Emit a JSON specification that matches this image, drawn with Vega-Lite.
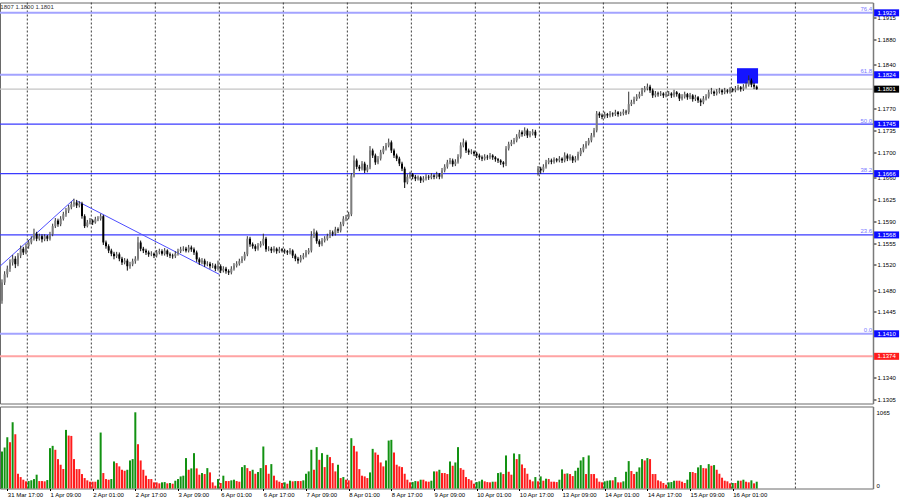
{
"$schema":"https://vega.github.io/schema/vega-lite/v6.json",
"padding":{"left":-3,"top":1.5,"right":4.5,"bottom":3},
"background":"white",
"spacing":1,
"config":{"view":{"stroke":"#6a6a6a","strokeWidth":1},"font":"Liberation Sans","axis":{"grid":false},"scale":{"continuousPadding":0}},
"datasets":{
"grid":[{"g":9.5},{"g":33.5},{"g":57.5},{"g":81.5},{"g":105.5},{"g":129.5},{"g":153.5},{"g":177.5},{"g":201.5},{"g":225.5},{"g":249.5},{"g":273.5},{"g":297.5}],
"levels":[{"p":1.1923,"k":"fl","f":"76.4"},{"p":1.1824,"k":"fl","f":"61.8"},{"p":1.1745,"k":"fd","f":"50.0"},{"p":1.1666,"k":"fd","f":"38.2"},{"p":1.1568,"k":"fd","f":"23.6"},{"p":1.141,"k":"fl","f":"0.0"},{"p":1.1801,"k":"bid"},{"p":1.1374,"k":"red"}],
"trend":[{"s":1,"i":-0.74,"p":1.1518},{"s":1,"i":27,"p":1.1625},{"s":2,"i":28.2,"p":1.1622},{"s":2,"i":81.5,"p":1.1505}],
"zone":[{"a":275.6,"b":283.5,"p1":1.18345,"p2":1.181}],
"hdr":[{"t":"1807 1.1800 1.1801"}],
"bars":[
{"i":0,"o":1.1463,"h":1.1497,"l":1.1458,"c":1.1492,"v":517},
{"i":1,"o":1.1492,"h":1.151,"l":1.1488,"c":1.1505,"v":573},
{"i":2,"o":1.1505,"h":1.1519,"l":1.15,"c":1.1514,"v":717},
{"i":3,"o":1.1514,"h":1.1529,"l":1.1509,"c":1.1524,"v":647},
{"i":4,"o":1.1524,"h":1.1536,"l":1.1519,"c":1.153,"v":926},
{"i":5,"o":1.153,"h":1.1534,"l":1.1515,"c":1.1521,"v":759},
{"i":6,"o":1.1521,"h":1.1539,"l":1.1518,"c":1.1535,"v":206},
{"i":7,"o":1.1535,"h":1.1551,"l":1.1531,"c":1.1546,"v":160},
{"i":8,"o":1.1546,"h":1.1549,"l":1.1536,"c":1.154,"v":123},
{"i":9,"o":1.154,"h":1.1554,"l":1.1537,"c":1.155,"v":100},
{"i":10,"o":1.155,"h":1.156,"l":1.1546,"c":1.1556,"v":104},
{"i":11,"o":1.1556,"h":1.1566,"l":1.1553,"c":1.1562,"v":114},
{"i":12,"o":1.1562,"h":1.1578,"l":1.1559,"c":1.157,"v":132},
{"i":13,"o":1.157,"h":1.1573,"l":1.1558,"c":1.1562,"v":193},
{"i":14,"o":1.1562,"h":1.157,"l":1.1559,"c":1.1566,"v":104},
{"i":15,"o":1.1566,"h":1.1569,"l":1.1556,"c":1.1561,"v":104},
{"i":16,"o":1.1561,"h":1.1569,"l":1.1558,"c":1.1566,"v":100},
{"i":17,"o":1.1566,"h":1.1568,"l":1.1558,"c":1.1562,"v":118},
{"i":18,"o":1.1562,"h":1.1573,"l":1.1559,"c":1.1569,"v":564},
{"i":19,"o":1.1569,"h":1.1586,"l":1.1566,"c":1.1582,"v":596},
{"i":20,"o":1.1582,"h":1.1595,"l":1.1579,"c":1.1591,"v":541},
{"i":21,"o":1.1591,"h":1.1594,"l":1.1581,"c":1.1585,"v":411},
{"i":22,"o":1.1585,"h":1.1598,"l":1.1582,"c":1.1594,"v":332},
{"i":23,"o":1.1594,"h":1.1605,"l":1.1591,"c":1.1601,"v":271},
{"i":24,"o":1.1601,"h":1.1611,"l":1.1597,"c":1.1607,"v":819},
{"i":25,"o":1.1607,"h":1.1616,"l":1.1603,"c":1.1612,"v":740},
{"i":26,"o":1.1612,"h":1.1621,"l":1.1609,"c":1.1617,"v":735},
{"i":27,"o":1.1617,"h":1.1626,"l":1.1613,"c":1.162,"v":411},
{"i":28,"o":1.162,"h":1.1624,"l":1.1611,"c":1.1615,"v":271},
{"i":29,"o":1.1615,"h":1.1622,"l":1.1612,"c":1.1618,"v":271},
{"i":30,"o":1.1618,"h":1.1621,"l":1.1594,"c":1.1598,"v":202},
{"i":31,"o":1.1598,"h":1.1601,"l":1.1579,"c":1.1582,"v":146},
{"i":32,"o":1.1582,"h":1.1592,"l":1.158,"c":1.1588,"v":114},
{"i":33,"o":1.1588,"h":1.1595,"l":1.1585,"c":1.1591,"v":95},
{"i":34,"o":1.1591,"h":1.1593,"l":1.1584,"c":1.1588,"v":95},
{"i":35,"o":1.1588,"h":1.1597,"l":1.1586,"c":1.1593,"v":95},
{"i":36,"o":1.1593,"h":1.1598,"l":1.159,"c":1.1594,"v":123},
{"i":37,"o":1.1594,"h":1.1602,"l":1.1591,"c":1.1598,"v":782},
{"i":38,"o":1.1598,"h":1.16,"l":1.1552,"c":1.1556,"v":216},
{"i":39,"o":1.1556,"h":1.1559,"l":1.1546,"c":1.155,"v":132},
{"i":40,"o":1.155,"h":1.1553,"l":1.1539,"c":1.1543,"v":123},
{"i":41,"o":1.1543,"h":1.1546,"l":1.1534,"c":1.1538,"v":132},
{"i":42,"o":1.1538,"h":1.1541,"l":1.1529,"c":1.1534,"v":378},
{"i":43,"o":1.1534,"h":1.1541,"l":1.1531,"c":1.1537,"v":355},
{"i":44,"o":1.1537,"h":1.154,"l":1.1526,"c":1.153,"v":309},
{"i":45,"o":1.153,"h":1.1533,"l":1.152,"c":1.1524,"v":262},
{"i":46,"o":1.1524,"h":1.1531,"l":1.1521,"c":1.1527,"v":248},
{"i":47,"o":1.1527,"h":1.153,"l":1.1511,"c":1.1518,"v":262},
{"i":48,"o":1.1518,"h":1.1525,"l":1.1514,"c":1.1521,"v":392},
{"i":49,"o":1.1521,"h":1.153,"l":1.1518,"c":1.1526,"v":411},
{"i":50,"o":1.1526,"h":1.1534,"l":1.1522,"c":1.153,"v":1065},
{"i":51,"o":1.153,"h":1.1565,"l":1.1527,"c":1.1556,"v":619},
{"i":52,"o":1.1556,"h":1.1559,"l":1.1542,"c":1.1546,"v":392},
{"i":53,"o":1.1546,"h":1.1549,"l":1.1539,"c":1.1543,"v":262},
{"i":54,"o":1.1543,"h":1.1546,"l":1.1536,"c":1.154,"v":179},
{"i":55,"o":1.154,"h":1.1543,"l":1.1533,"c":1.1537,"v":132},
{"i":56,"o":1.1537,"h":1.1542,"l":1.1534,"c":1.1538,"v":132},
{"i":57,"o":1.1538,"h":1.154,"l":1.1531,"c":1.1535,"v":86},
{"i":58,"o":1.1535,"h":1.1544,"l":1.1532,"c":1.154,"v":86},
{"i":59,"o":1.154,"h":1.1546,"l":1.1537,"c":1.1542,"v":72},
{"i":60,"o":1.1542,"h":1.1545,"l":1.1535,"c":1.1538,"v":86},
{"i":61,"o":1.1538,"h":1.1547,"l":1.1535,"c":1.1543,"v":90},
{"i":62,"o":1.1543,"h":1.1545,"l":1.1533,"c":1.1537,"v":72},
{"i":63,"o":1.1537,"h":1.154,"l":1.1531,"c":1.1535,"v":77},
{"i":64,"o":1.1535,"h":1.1538,"l":1.153,"c":1.1534,"v":67},
{"i":65,"o":1.1534,"h":1.1542,"l":1.1531,"c":1.1538,"v":109},
{"i":66,"o":1.1538,"h":1.1546,"l":1.1535,"c":1.1542,"v":132},
{"i":67,"o":1.1542,"h":1.1549,"l":1.1539,"c":1.1545,"v":169},
{"i":68,"o":1.1545,"h":1.155,"l":1.1542,"c":1.1546,"v":179},
{"i":69,"o":1.1546,"h":1.1549,"l":1.154,"c":1.1543,"v":425},
{"i":70,"o":1.1543,"h":1.1552,"l":1.154,"c":1.1548,"v":262},
{"i":71,"o":1.1548,"h":1.1551,"l":1.1541,"c":1.1545,"v":281},
{"i":72,"o":1.1545,"h":1.1548,"l":1.1536,"c":1.154,"v":494},
{"i":73,"o":1.154,"h":1.1543,"l":1.1525,"c":1.1529,"v":281},
{"i":74,"o":1.1529,"h":1.1532,"l":1.152,"c":1.1524,"v":193},
{"i":75,"o":1.1524,"h":1.1531,"l":1.1521,"c":1.1527,"v":216},
{"i":76,"o":1.1527,"h":1.153,"l":1.1517,"c":1.1521,"v":202},
{"i":77,"o":1.1521,"h":1.1526,"l":1.1518,"c":1.1522,"v":285},
{"i":78,"o":1.1522,"h":1.1525,"l":1.1514,"c":1.1518,"v":225},
{"i":79,"o":1.1518,"h":1.1523,"l":1.1515,"c":1.1519,"v":86},
{"i":80,"o":1.1519,"h":1.1522,"l":1.151,"c":1.1514,"v":39},
{"i":81,"o":1.1514,"h":1.1527,"l":1.1511,"c":1.1518,"v":132},
{"i":82,"o":1.1518,"h":1.1521,"l":1.1507,"c":1.1511,"v":77},
{"i":83,"o":1.1511,"h":1.1518,"l":1.1508,"c":1.1514,"v":179},
{"i":84,"o":1.1514,"h":1.1517,"l":1.1506,"c":1.151,"v":104},
{"i":85,"o":1.151,"h":1.1513,"l":1.1504,"c":1.1508,"v":104},
{"i":86,"o":1.1508,"h":1.1518,"l":1.1505,"c":1.1514,"v":114},
{"i":87,"o":1.1514,"h":1.1523,"l":1.1511,"c":1.1519,"v":123},
{"i":88,"o":1.1519,"h":1.1526,"l":1.1516,"c":1.1522,"v":104},
{"i":89,"o":1.1522,"h":1.153,"l":1.1519,"c":1.1526,"v":95},
{"i":90,"o":1.1526,"h":1.1534,"l":1.1523,"c":1.153,"v":299},
{"i":91,"o":1.153,"h":1.1541,"l":1.1527,"c":1.1537,"v":327},
{"i":92,"o":1.1537,"h":1.1566,"l":1.1534,"c":1.1562,"v":285},
{"i":93,"o":1.1562,"h":1.1565,"l":1.1549,"c":1.1553,"v":243},
{"i":94,"o":1.1553,"h":1.1556,"l":1.1546,"c":1.155,"v":262},
{"i":95,"o":1.155,"h":1.1553,"l":1.1542,"c":1.1546,"v":206},
{"i":96,"o":1.1546,"h":1.1555,"l":1.1543,"c":1.1551,"v":230},
{"i":97,"o":1.1551,"h":1.1558,"l":1.1548,"c":1.1554,"v":285},
{"i":98,"o":1.1554,"h":1.157,"l":1.1551,"c":1.1562,"v":587},
{"i":99,"o":1.1562,"h":1.1565,"l":1.1541,"c":1.1545,"v":327},
{"i":100,"o":1.1545,"h":1.155,"l":1.1542,"c":1.1546,"v":206},
{"i":101,"o":1.1546,"h":1.1549,"l":1.1539,"c":1.1543,"v":341},
{"i":102,"o":1.1543,"h":1.155,"l":1.154,"c":1.1546,"v":179},
{"i":103,"o":1.1546,"h":1.1548,"l":1.1538,"c":1.1542,"v":114},
{"i":104,"o":1.1542,"h":1.1549,"l":1.1539,"c":1.1545,"v":95},
{"i":105,"o":1.1545,"h":1.1547,"l":1.154,"c":1.1543,"v":77},
{"i":106,"o":1.1543,"h":1.1546,"l":1.1538,"c":1.1542,"v":86},
{"i":107,"o":1.1542,"h":1.1544,"l":1.1536,"c":1.154,"v":67},
{"i":108,"o":1.154,"h":1.1547,"l":1.1537,"c":1.1543,"v":109},
{"i":109,"o":1.1543,"h":1.1545,"l":1.1531,"c":1.1535,"v":100},
{"i":110,"o":1.1535,"h":1.1538,"l":1.1526,"c":1.153,"v":104},
{"i":111,"o":1.153,"h":1.1533,"l":1.1522,"c":1.1527,"v":104},
{"i":112,"o":1.1527,"h":1.1536,"l":1.1524,"c":1.1532,"v":104},
{"i":113,"o":1.1532,"h":1.1539,"l":1.1529,"c":1.1535,"v":114},
{"i":114,"o":1.1535,"h":1.1544,"l":1.1532,"c":1.154,"v":206},
{"i":115,"o":1.154,"h":1.1547,"l":1.1537,"c":1.1543,"v":239},
{"i":116,"o":1.1543,"h":1.1574,"l":1.154,"c":1.1566,"v":541},
{"i":117,"o":1.1566,"h":1.1578,"l":1.1563,"c":1.1572,"v":262},
{"i":118,"o":1.1572,"h":1.1575,"l":1.1554,"c":1.1558,"v":578},
{"i":119,"o":1.1558,"h":1.1561,"l":1.1549,"c":1.1553,"v":401},
{"i":120,"o":1.1553,"h":1.1563,"l":1.155,"c":1.1559,"v":494},
{"i":121,"o":1.1559,"h":1.1566,"l":1.1556,"c":1.1562,"v":299},
{"i":122,"o":1.1562,"h":1.157,"l":1.1559,"c":1.1566,"v":471},
{"i":123,"o":1.1566,"h":1.1576,"l":1.1563,"c":1.1572,"v":439},
{"i":124,"o":1.1572,"h":1.1575,"l":1.1566,"c":1.157,"v":355},
{"i":125,"o":1.157,"h":1.1581,"l":1.1567,"c":1.1577,"v":239},
{"i":126,"o":1.1577,"h":1.158,"l":1.1571,"c":1.1575,"v":332},
{"i":127,"o":1.1575,"h":1.1589,"l":1.1572,"c":1.1585,"v":146},
{"i":128,"o":1.1585,"h":1.1598,"l":1.1582,"c":1.1594,"v":160},
{"i":129,"o":1.1594,"h":1.16,"l":1.159,"c":1.1596,"v":123},
{"i":130,"o":1.1596,"h":1.1605,"l":1.1593,"c":1.1601,"v":114},
{"i":131,"o":1.1601,"h":1.1667,"l":1.1598,"c":1.1663,"v":703},
{"i":132,"o":1.1663,"h":1.1695,"l":1.166,"c":1.1687,"v":596},
{"i":133,"o":1.1687,"h":1.169,"l":1.1673,"c":1.1677,"v":517},
{"i":134,"o":1.1677,"h":1.168,"l":1.167,"c":1.1674,"v":271},
{"i":135,"o":1.1674,"h":1.1686,"l":1.1671,"c":1.1682,"v":179},
{"i":136,"o":1.1682,"h":1.1685,"l":1.1667,"c":1.1671,"v":169},
{"i":137,"o":1.1671,"h":1.168,"l":1.1668,"c":1.1676,"v":146},
{"i":138,"o":1.1676,"h":1.171,"l":1.1673,"c":1.1703,"v":225},
{"i":139,"o":1.1703,"h":1.1706,"l":1.1691,"c":1.1695,"v":554},
{"i":140,"o":1.1695,"h":1.1698,"l":1.168,"c":1.1684,"v":503},
{"i":141,"o":1.1684,"h":1.1694,"l":1.1681,"c":1.169,"v":471},
{"i":142,"o":1.169,"h":1.1704,"l":1.1687,"c":1.17,"v":364},
{"i":143,"o":1.17,"h":1.171,"l":1.1697,"c":1.1706,"v":309},
{"i":144,"o":1.1706,"h":1.1715,"l":1.1703,"c":1.1711,"v":392},
{"i":145,"o":1.1711,"h":1.1722,"l":1.1708,"c":1.1716,"v":670},
{"i":146,"o":1.1716,"h":1.1719,"l":1.1699,"c":1.1703,"v":680},
{"i":147,"o":1.1703,"h":1.1706,"l":1.1691,"c":1.1695,"v":503},
{"i":148,"o":1.1695,"h":1.1698,"l":1.1686,"c":1.169,"v":332},
{"i":149,"o":1.169,"h":1.1693,"l":1.1678,"c":1.1682,"v":309},
{"i":150,"o":1.1682,"h":1.1685,"l":1.167,"c":1.1674,"v":299},
{"i":151,"o":1.1674,"h":1.1677,"l":1.1643,"c":1.1652,"v":206},
{"i":152,"o":1.1652,"h":1.1665,"l":1.1649,"c":1.1661,"v":123},
{"i":153,"o":1.1661,"h":1.1669,"l":1.1658,"c":1.1665,"v":86},
{"i":154,"o":1.1665,"h":1.1667,"l":1.1657,"c":1.1661,"v":90},
{"i":155,"o":1.1661,"h":1.1664,"l":1.1654,"c":1.1658,"v":104},
{"i":156,"o":1.1658,"h":1.1663,"l":1.1655,"c":1.166,"v":100},
{"i":157,"o":1.166,"h":1.1662,"l":1.1651,"c":1.1655,"v":123},
{"i":158,"o":1.1655,"h":1.1662,"l":1.1652,"c":1.1658,"v":123},
{"i":159,"o":1.1658,"h":1.1665,"l":1.1655,"c":1.1661,"v":100},
{"i":160,"o":1.1661,"h":1.1664,"l":1.1656,"c":1.166,"v":95},
{"i":161,"o":1.166,"h":1.1667,"l":1.1657,"c":1.1663,"v":109},
{"i":162,"o":1.1663,"h":1.1665,"l":1.1657,"c":1.1661,"v":239},
{"i":163,"o":1.1661,"h":1.1669,"l":1.1658,"c":1.1665,"v":239},
{"i":164,"o":1.1665,"h":1.1667,"l":1.1657,"c":1.1661,"v":262},
{"i":165,"o":1.1661,"h":1.1675,"l":1.1658,"c":1.1671,"v":216},
{"i":166,"o":1.1671,"h":1.1681,"l":1.1668,"c":1.1677,"v":216},
{"i":167,"o":1.1677,"h":1.1688,"l":1.1674,"c":1.1684,"v":202},
{"i":168,"o":1.1684,"h":1.1691,"l":1.1681,"c":1.1687,"v":378},
{"i":169,"o":1.1687,"h":1.169,"l":1.1677,"c":1.1681,"v":318},
{"i":170,"o":1.1681,"h":1.1689,"l":1.1678,"c":1.1685,"v":364},
{"i":171,"o":1.1685,"h":1.1697,"l":1.1682,"c":1.1693,"v":578},
{"i":172,"o":1.1693,"h":1.1716,"l":1.169,"c":1.1711,"v":285},
{"i":173,"o":1.1711,"h":1.1722,"l":1.1708,"c":1.1716,"v":262},
{"i":174,"o":1.1716,"h":1.1719,"l":1.1699,"c":1.1703,"v":160},
{"i":175,"o":1.1703,"h":1.1706,"l":1.1696,"c":1.17,"v":132},
{"i":176,"o":1.17,"h":1.1705,"l":1.1697,"c":1.1701,"v":114},
{"i":177,"o":1.1701,"h":1.1703,"l":1.1694,"c":1.1698,"v":67},
{"i":178,"o":1.1698,"h":1.1701,"l":1.1691,"c":1.1695,"v":90},
{"i":179,"o":1.1695,"h":1.1698,"l":1.1688,"c":1.1692,"v":100},
{"i":180,"o":1.1692,"h":1.1695,"l":1.1686,"c":1.169,"v":123},
{"i":181,"o":1.169,"h":1.1697,"l":1.1687,"c":1.1693,"v":100},
{"i":182,"o":1.1693,"h":1.1696,"l":1.1688,"c":1.1692,"v":90},
{"i":183,"o":1.1692,"h":1.1699,"l":1.1689,"c":1.1695,"v":86},
{"i":184,"o":1.1695,"h":1.1697,"l":1.1688,"c":1.1692,"v":95},
{"i":185,"o":1.1692,"h":1.1694,"l":1.1685,"c":1.1689,"v":95},
{"i":186,"o":1.1689,"h":1.1691,"l":1.1683,"c":1.1687,"v":216},
{"i":187,"o":1.1687,"h":1.1689,"l":1.168,"c":1.1684,"v":225},
{"i":188,"o":1.1684,"h":1.1686,"l":1.1676,"c":1.1681,"v":202},
{"i":189,"o":1.1681,"h":1.171,"l":1.1678,"c":1.1706,"v":462},
{"i":190,"o":1.1706,"h":1.1717,"l":1.1703,"c":1.1713,"v":234},
{"i":191,"o":1.1713,"h":1.172,"l":1.171,"c":1.1716,"v":193},
{"i":192,"o":1.1716,"h":1.1723,"l":1.1713,"c":1.1719,"v":490},
{"i":193,"o":1.1719,"h":1.1729,"l":1.1716,"c":1.1725,"v":411},
{"i":194,"o":1.1725,"h":1.1736,"l":1.1722,"c":1.1732,"v":480},
{"i":195,"o":1.1732,"h":1.1735,"l":1.1725,"c":1.1729,"v":336},
{"i":196,"o":1.1729,"h":1.174,"l":1.1726,"c":1.1735,"v":285},
{"i":197,"o":1.1735,"h":1.1738,"l":1.1723,"c":1.1727,"v":206},
{"i":198,"o":1.1727,"h":1.1734,"l":1.1724,"c":1.173,"v":123},
{"i":199,"o":1.173,"h":1.1737,"l":1.1727,"c":1.1733,"v":100},
{"i":200,"o":1.1733,"h":1.1736,"l":1.1723,"c":1.1727,"v":160},
{"i":201,"o":1.1668,"h":1.1678,"l":1.1663,"c":1.1674,"v":100},
{"i":202,"o":1.1674,"h":1.1677,"l":1.1666,"c":1.1671,"v":169},
{"i":203,"o":1.1671,"h":1.1681,"l":1.1668,"c":1.1677,"v":109},
{"i":204,"o":1.1677,"h":1.1688,"l":1.1674,"c":1.1684,"v":137},
{"i":205,"o":1.1684,"h":1.1691,"l":1.1681,"c":1.1687,"v":132},
{"i":206,"o":1.1687,"h":1.169,"l":1.1681,"c":1.1685,"v":95},
{"i":207,"o":1.1685,"h":1.1692,"l":1.1682,"c":1.1689,"v":95},
{"i":208,"o":1.1689,"h":1.1691,"l":1.1684,"c":1.1687,"v":90},
{"i":209,"o":1.1687,"h":1.1694,"l":1.1684,"c":1.169,"v":123},
{"i":210,"o":1.169,"h":1.1692,"l":1.1683,"c":1.1687,"v":267},
{"i":211,"o":1.1687,"h":1.17,"l":1.1684,"c":1.1695,"v":206},
{"i":212,"o":1.1695,"h":1.1698,"l":1.1686,"c":1.169,"v":211},
{"i":213,"o":1.169,"h":1.1697,"l":1.1687,"c":1.1693,"v":202},
{"i":214,"o":1.1693,"h":1.1695,"l":1.1683,"c":1.1687,"v":174},
{"i":215,"o":1.1687,"h":1.1694,"l":1.1684,"c":1.169,"v":248},
{"i":216,"o":1.169,"h":1.1701,"l":1.1687,"c":1.1697,"v":290},
{"i":217,"o":1.1697,"h":1.1707,"l":1.1694,"c":1.1703,"v":392},
{"i":218,"o":1.1703,"h":1.1713,"l":1.17,"c":1.1709,"v":438},
{"i":219,"o":1.1709,"h":1.1718,"l":1.1706,"c":1.1714,"v":202},
{"i":220,"o":1.1714,"h":1.1723,"l":1.1711,"c":1.1719,"v":462},
{"i":221,"o":1.1719,"h":1.1731,"l":1.1716,"c":1.1727,"v":202},
{"i":222,"o":1.1727,"h":1.1739,"l":1.1724,"c":1.1735,"v":202},
{"i":223,"o":1.1735,"h":1.1766,"l":1.1732,"c":1.1762,"v":142},
{"i":224,"o":1.1762,"h":1.1765,"l":1.1755,"c":1.1759,"v":95},
{"i":225,"o":1.1759,"h":1.1762,"l":1.1753,"c":1.1757,"v":86},
{"i":226,"o":1.1757,"h":1.1765,"l":1.1754,"c":1.1761,"v":100},
{"i":227,"o":1.1761,"h":1.1763,"l":1.1755,"c":1.1759,"v":109},
{"i":228,"o":1.1759,"h":1.1766,"l":1.1756,"c":1.1762,"v":114},
{"i":229,"o":1.1762,"h":1.1764,"l":1.1757,"c":1.1761,"v":114},
{"i":230,"o":1.1761,"h":1.1768,"l":1.1758,"c":1.1764,"v":160},
{"i":231,"o":1.1764,"h":1.1766,"l":1.1757,"c":1.1761,"v":86},
{"i":232,"o":1.1761,"h":1.1765,"l":1.1758,"c":1.1762,"v":86},
{"i":233,"o":1.1762,"h":1.1769,"l":1.1759,"c":1.1765,"v":100},
{"i":234,"o":1.1765,"h":1.1768,"l":1.176,"c":1.1764,"v":234},
{"i":235,"o":1.1764,"h":1.1797,"l":1.1761,"c":1.1777,"v":383},
{"i":236,"o":1.1777,"h":1.1784,"l":1.1774,"c":1.178,"v":244},
{"i":237,"o":1.178,"h":1.1789,"l":1.1777,"c":1.1785,"v":202},
{"i":238,"o":1.1785,"h":1.1793,"l":1.1782,"c":1.1789,"v":234},
{"i":239,"o":1.1789,"h":1.1797,"l":1.1786,"c":1.1793,"v":295},
{"i":240,"o":1.1793,"h":1.1803,"l":1.179,"c":1.1799,"v":411},
{"i":241,"o":1.1799,"h":1.1806,"l":1.1796,"c":1.1802,"v":392},
{"i":242,"o":1.1802,"h":1.181,"l":1.1799,"c":1.1805,"v":425},
{"i":243,"o":1.1805,"h":1.1808,"l":1.1795,"c":1.1799,"v":411},
{"i":244,"o":1.1799,"h":1.1802,"l":1.1787,"c":1.1791,"v":202},
{"i":245,"o":1.1791,"h":1.1798,"l":1.1788,"c":1.1794,"v":202},
{"i":246,"o":1.1794,"h":1.1797,"l":1.1789,"c":1.1793,"v":114},
{"i":247,"o":1.1793,"h":1.1798,"l":1.179,"c":1.1794,"v":100},
{"i":248,"o":1.1794,"h":1.1796,"l":1.1787,"c":1.1791,"v":77},
{"i":249,"o":1.1791,"h":1.1797,"l":1.1788,"c":1.1793,"v":53},
{"i":250,"o":1.1793,"h":1.1798,"l":1.179,"c":1.1794,"v":86},
{"i":251,"o":1.1794,"h":1.1796,"l":1.1787,"c":1.1791,"v":90},
{"i":252,"o":1.1791,"h":1.18,"l":1.1788,"c":1.1796,"v":109},
{"i":253,"o":1.1796,"h":1.1798,"l":1.1789,"c":1.1793,"v":109},
{"i":254,"o":1.1793,"h":1.1795,"l":1.1782,"c":1.1786,"v":109},
{"i":255,"o":1.1786,"h":1.1793,"l":1.1783,"c":1.1789,"v":95},
{"i":256,"o":1.1789,"h":1.1797,"l":1.1786,"c":1.1793,"v":77},
{"i":257,"o":1.1793,"h":1.1795,"l":1.1784,"c":1.1788,"v":123},
{"i":258,"o":1.1788,"h":1.1795,"l":1.1785,"c":1.1791,"v":230},
{"i":259,"o":1.1791,"h":1.1793,"l":1.1781,"c":1.1785,"v":230},
{"i":260,"o":1.1785,"h":1.1792,"l":1.1782,"c":1.1788,"v":216},
{"i":261,"o":1.1788,"h":1.179,"l":1.1779,"c":1.1783,"v":295},
{"i":262,"o":1.1783,"h":1.1786,"l":1.1774,"c":1.178,"v":327},
{"i":263,"o":1.178,"h":1.179,"l":1.1777,"c":1.1786,"v":285},
{"i":264,"o":1.1786,"h":1.1793,"l":1.1783,"c":1.1789,"v":281},
{"i":265,"o":1.1789,"h":1.18,"l":1.1786,"c":1.1796,"v":341},
{"i":266,"o":1.1796,"h":1.1803,"l":1.1793,"c":1.1797,"v":318},
{"i":267,"o":1.1797,"h":1.1799,"l":1.179,"c":1.1794,"v":327},
{"i":268,"o":1.1794,"h":1.1801,"l":1.1791,"c":1.1797,"v":262},
{"i":269,"o":1.1797,"h":1.1803,"l":1.1794,"c":1.1799,"v":206},
{"i":270,"o":1.1799,"h":1.1801,"l":1.1792,"c":1.1796,"v":151},
{"i":271,"o":1.1796,"h":1.1803,"l":1.1793,"c":1.1799,"v":109},
{"i":272,"o":1.1799,"h":1.1801,"l":1.1794,"c":1.1797,"v":100},
{"i":273,"o":1.1797,"h":1.1804,"l":1.1794,"c":1.1801,"v":72},
{"i":274,"o":1.1801,"h":1.1803,"l":1.1796,"c":1.1799,"v":77},
{"i":275,"o":1.1799,"h":1.1806,"l":1.1796,"c":1.1802,"v":77},
{"i":276,"o":1.1802,"h":1.1808,"l":1.1799,"c":1.1804,"v":109},
{"i":277,"o":1.1804,"h":1.1806,"l":1.1797,"c":1.1801,"v":109},
{"i":278,"o":1.1801,"h":1.1809,"l":1.1798,"c":1.1805,"v":123},
{"i":279,"o":1.1805,"h":1.1812,"l":1.1802,"c":1.1808,"v":95},
{"i":280,"o":1.1808,"h":1.1823,"l":1.1805,"c":1.1815,"v":86},
{"i":281,"o":1.1815,"h":1.1818,"l":1.1804,"c":1.1808,"v":114},
{"i":282,"o":1.1808,"h":1.1811,"l":1.1801,"c":1.1805,"v":72},
{"i":283,"o":1.1805,"h":1.1807,"l":1.18,"c":1.1801,"v":95}
]},
"vconcat":[
{"width":873,"height":401,
 "resolve":{"axis":{"y":"independent"}},
 "layer":[
  {"data":{"name":"grid"},"mark":{"type":"rule","strokeDash":[2,2],"color":"#3a3a3a","strokeWidth":1},
   "encoding":{"x":{"field":"g","type":"quantitative","scale":{"domain":[-0.74,326.6],"nice":false,"zero":false,"padding":0},"axis":null}}},
  {"data":{"name":"levels"},"mark":{"type":"rule"},
   "encoding":{"y":{"field":"p","type":"quantitative","scale":{"domain":[1.12986,1.19395],"nice":false,"zero":false,"padding":0},
     "axis":{"orient":"right","values":[1.1305,1.134,1.1445,1.148,1.152,1.1555,1.159,1.1625,1.166,1.17,1.1735,1.177,1.184,1.188,1.1915],"format":".4f","labelFontSize":6,"labelFont":"Liberation Sans","labelColor":"#000000","tickSize":3,"tickColor":"#000000","domain":true,"domainColor":"#7a7a7a","domainWidth":1.5,"labelPadding":1,"title":null,"grid":false}},
    "color":{"condition":[{"test":"datum.k=='fl'","value":"#a3a3ff"},{"test":"datum.k=='fd'","value":"#3b3bff"},{"test":"datum.k=='bid'","value":"#c4c4c4"}],"value":"#ffa3a3"},
    "strokeWidth":{"condition":{"test":"datum.k=='fd' || datum.k=='bid'","value":1.2},"value":2}}},
  {"data":{"name":"zone"},"mark":{"type":"rect","color":"#1414ff"},
   "encoding":{"x":{"field":"a","type":"quantitative","axis":null},"x2":{"field":"b"},"y":{"field":"p1","type":"quantitative","axis":null},"y2":{"field":"p2"}}},
  {"data":{"name":"trend"},"mark":{"type":"line","color":"#4d4dff","strokeWidth":1},
   "encoding":{"x":{"field":"i","type":"quantitative","axis":null},"y":{"field":"p","type":"quantitative","axis":null},"detail":{"field":"s"}}},
  {"data":{"name":"bars"},"mark":{"type":"rule","strokeWidth":1},
   "encoding":{"x":{"field":"i","type":"quantitative","axis":null},"y":{"field":"l","type":"quantitative","axis":null},"y2":{"field":"h"},
    "color":{"condition":{"test":"datum.c>=datum.o","value":"#303030"},"value":"#000000"}}},
  {"data":{"name":"bars"},"mark":{"type":"bar","size":2},
   "encoding":{"x":{"field":"i","type":"quantitative","axis":null},"y":{"field":"o","type":"quantitative","axis":null},"y2":{"field":"c"},
    "color":{"condition":{"test":"datum.c>=datum.o","value":"#7d7d7d"},"value":"#000000"}}},
  {"data":{"name":"levels"},"transform":[{"filter":"datum.f != null"}],
   "mark":{"type":"text","align":"right","baseline":"bottom","fontSize":6,"color":"#7a7aff","dy":-0.5},
   "encoding":{"x":{"datum":326.3,"type":"quantitative","axis":null},"y":{"field":"p","type":"quantitative","axis":null},"text":{"field":"f"}}},
  {"data":{"name":"levels"},"mark":{"type":"tick","orient":"horizontal","size":25,"thickness":7,"opacity":1,"clip":false},
   "encoding":{"x":{"datum":331.7,"type":"quantitative","axis":null},"y":{"field":"p","type":"quantitative","axis":null},
    "color":{"condition":[{"test":"datum.k=='bid'","value":"#000000"},{"test":"datum.k=='red'","value":"#ff1c1c"}],"value":"#0c0cff"}}},
  {"data":{"name":"levels"},"mark":{"type":"text","align":"center","baseline":"middle","fontSize":6,"color":"#ffffff","clip":false},
   "encoding":{"x":{"datum":331.7,"type":"quantitative","axis":null},"y":{"field":"p","type":"quantitative","axis":null},"text":{"field":"p","format":".4f"}}},
  {"data":{"name":"hdr"},"mark":{"type":"text","align":"left","baseline":"middle","fontSize":6,"color":"#333333"},
   "encoding":{"x":{"datum":-0.6,"type":"quantitative","axis":null},"y":{"datum":1.1932,"type":"quantitative","axis":null},"text":{"field":"t"}}}
 ]},
{"width":873,"height":82,
 "resolve":{"axis":{"x":"independent"}},
 "layer":[
  {"data":{"name":"grid"},"mark":{"type":"rule","strokeDash":[2,2],"color":"#3a3a3a","strokeWidth":1},
   "encoding":{"x":{"field":"g","type":"quantitative","scale":{"domain":[-0.74,326.6],"nice":false,"zero":false,"padding":0},"axis":null}}},
  {"data":{"name":"bars"},
   "transform":[{"window":[{"op":"lag","field":"v","as":"pv"}],"sort":[{"field":"i"}]}],
   "mark":{"type":"bar","size":2},
   "encoding":{"x":{"field":"i","type":"quantitative",
      "axis":{"values":[2,18,34,50,66,82,98,114,130,146,162,178,194,210,226,242,258,274],
       "labelExpr":"['31 Mar 17:00','1 Apr 09:00','2 Apr 01:00','2 Apr 17:00','3 Apr 09:00','6 Apr 01:00','6 Apr 17:00','7 Apr 09:00','8 Apr 01:00','8 Apr 17:00','9 Apr 09:00','10 Apr 01:00','10 Apr 17:00','13 Apr 09:00','14 Apr 01:00','14 Apr 17:00','15 Apr 09:00','16 Apr 01:00'][round((datum.value-2)/16)]",
       "labelAlign":"left","labelFontSize":6,"labelFont":"Liberation Sans","labelColor":"#000000","tickSize":2,"tickColor":"#000000","domain":false,"labelPadding":1,"title":null,"grid":false}},
    "y":{"field":"v","type":"quantitative","scale":{"domain":[0,1146],"nice":false},
      "axis":{"orient":"right","values":[0,1065],"format":"d","labelFontSize":6,"labelFont":"Liberation Sans","labelColor":"#000000","tickSize":0,"domain":true,"domainColor":"#7a7a7a","domainWidth":1.5,"labelFlush":true,"labelPadding":3,"title":null,"grid":false}},
    "color":{"condition":{"test":"datum.v > datum.pv","value":"#129212"},"value":"#ff1c1c"}}}
 ]}
]
}
